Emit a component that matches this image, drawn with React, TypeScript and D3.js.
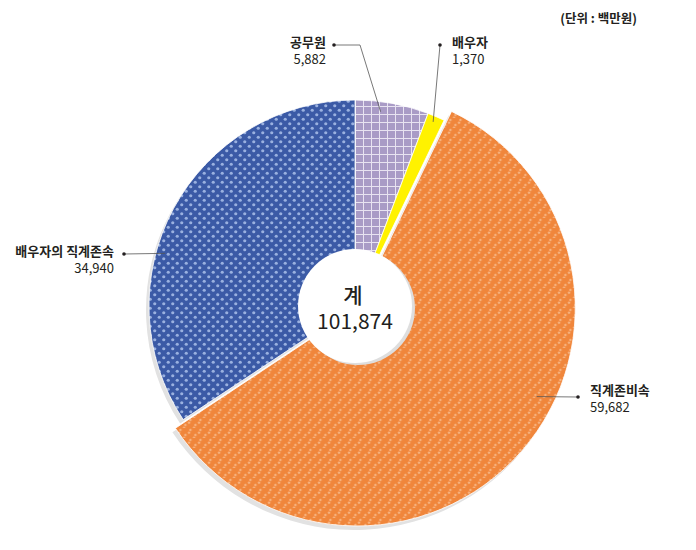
import React from 'react';
import * as d3 from 'd3';

// 단위: 백만원
const categories = ['공무원', '배우자', '직계존비속', '배우자의 직계존속'];
const values = [5882, 1370, 59682, 34940];
const totalLabel = '계';
const unitLabel = '(단위 : 백만원)';

const fills = ['url(#pPurple)', '#fff200', 'url(#pOrange)', 'url(#pBlue)'];

// label layout: text anchor point, leader dot, leader elbow, angle/radius of the tip on the slice
const labelLayout = [
  { tx: 326, ty: 47, anchor: 'end', dot: [334, 45], elbow: [360, 45], tipAngle: 7.5, tipR: 196 },
  { tx: 452, ty: 47, anchor: 'start', dot: [440, 45], elbow: null, tipAngle: 23, tipR: 200 },
  { tx: 590, ty: 395, anchor: 'start', dot: [578, 397], elbow: null, tipAngle: 116.5, tipR: 203 },
  { tx: 114, ty: 256, anchor: 'end', dot: [124, 254], elbow: null, tipAngle: 285.5, tipR: 197 },
];

const FONT = '"Noto Sans CJK KR", "Noto Sans", sans-serif';

export default function App() {
  const width = 696;
  const height = 550;
  const cx = 355;
  const cy = 306;
  const radius = 206;

  const pie = d3.pie<number>().sort(null).value((d) => d);
  const arcs = pie(values);
  const total = d3.sum(values);

  const arcGen = d3.arc<d3.PieArcDatum<number>>().innerRadius(0);

  // the big slice is drawn a bit larger and pulled out
  const outerFor = (i: number) => (i === 2 ? 218 : radius);
  const offsetFor = (a: d3.PieArcDatum<number>, i: number) => {
    if (i !== 2) return [0, 0];
    const mid = (a.startAngle + a.endAngle) / 2;
    return [Math.sin(mid) * 3, -Math.cos(mid) * 3];
  };

  const polar = (deg: number, r: number) => {
    const rad = (deg * Math.PI) / 180;
    return [cx + Math.sin(rad) * r, cy - Math.cos(rad) * r];
  };

  return (
    <svg
      width={width}
      height={height}
      style={{ position: 'absolute', left: 0, top: 0, background: '#fff' }}
      fontFamily={FONT}
    >
      <defs>
        <pattern id="pBlue" width="9" height="9" patternUnits="userSpaceOnUse">
          <rect width="9" height="9" fill="#3b5aa6" />
          <circle cx="2.25" cy="2.25" r="1.6" fill="#9ab1e0" />
          <circle cx="6.75" cy="6.75" r="1.6" fill="#9ab1e0" />
        </pattern>
        <pattern id="pPurple" width="8" height="8" patternUnits="userSpaceOnUse">
          <rect width="8" height="8" fill="#a99bc6" />
          <path d="M0 0.5H8M0.5 0V8" stroke="#e8e3f1" strokeWidth="1" />
        </pattern>
        <pattern id="pOrange" width="10" height="10" patternUnits="userSpaceOnUse">
          <rect width="10" height="10" fill="#f0863b" />
          <g fill="#f7b584">
            <path d="M3.2 0.6l1.5 1.5-1.5 1.5-1.5-1.5z" />
            <path d="M1.8 3.2l1.5 1.5-1.5 1.5-1.5-1.5z" />
            <path d="M8.2 5.6l1.5 1.5-1.5 1.5-1.5-1.5z" />
            <path d="M6.8 8.2l1.5 1.5-1.5 1.5-1.5-1.5z" />
          </g>
        </pattern>
      </defs>

      <text x={637} y={23} textAnchor="end" fontSize={12.5} fontWeight={700} fill="#231f20">
        {unitLabel}
      </text>

      <g transform={`translate(${cx},${cy})`}>
        {/* shadow */}
        <g transform="translate(-3,4)">
          {arcs.map((a, i) => {
            const [ox, oy] = offsetFor(a, i);
            return (
              <path
                key={`s${i}`}
                transform={`translate(${ox},${oy})`}
                d={arcGen.outerRadius(outerFor(i))(a) || ''}
                fill="#e2e2e2"
              />
            );
          })}
        </g>
        {arcs.map((a, i) => {
          const [ox, oy] = offsetFor(a, i);
          return (
            <path
              key={`a${i}`}
              transform={`translate(${ox},${oy})`}
              d={arcGen.outerRadius(outerFor(i))(a) || ''}
              fill={fills[i]}
              stroke="#fff"
              strokeWidth={0.8}
            />
          );
        })}
        {/* centre hole */}
        <circle cx={3} cy={2} r={57} fill="#dedede" />
        <circle cx={0} cy={0} r={57} fill="#fff" />
      </g>

      <text x={cx - 2} y={303} textAnchor="middle" fontSize={21} fontWeight={500} fill="#231f20">
        {totalLabel}
      </text>
      <text x={cx} y={329} textAnchor="middle" fontSize={21} fill="#231f20">
        {d3.format(',')(total)}
      </text>

      {labelLayout.map((l, i) => {
        const tip = polar(l.tipAngle, l.tipR);
        const pts = [l.dot, ...(l.elbow ? [l.elbow] : []), tip];
        return (
          <g key={`l${i}`}>
            <polyline
              points={pts.map((p) => p.join(',')).join(' ')}
              fill="none"
              stroke="#555"
              strokeWidth={0.8}
            />
            <circle cx={l.dot[0]} cy={l.dot[1]} r={1.8} fill="#231f20" />
            <text x={l.tx} y={l.ty} textAnchor={l.anchor as any} fontSize={13} fontWeight={700} fill="#231f20">
              {categories[i]}
            </text>
            <text x={l.tx} y={l.ty + 17} textAnchor={l.anchor as any} fontSize={13} fill="#231f20">
              {d3.format(',')(values[i])}
            </text>
          </g>
        );
      })}
    </svg>
  );
}
